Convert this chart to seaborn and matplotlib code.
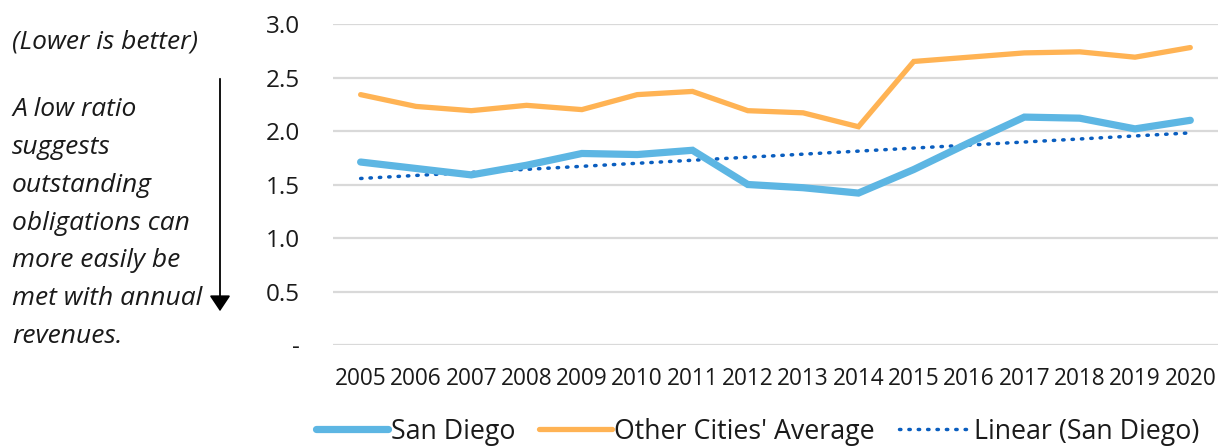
import numpy as np
import pandas as pd
import matplotlib
matplotlib.use("Agg")
import matplotlib.pyplot as plt
import seaborn as sns

years = list(range(2005, 2021))
san_diego = [1.71, 1.65, 1.59, 1.68, 1.79, 1.78, 1.82, 1.50, 1.47, 1.42, 1.64, 1.89, 2.13, 2.12, 2.02, 2.10]
other_cities = [2.34, 2.23, 2.19, 2.24, 2.20, 2.34, 2.37, 2.19, 2.17, 2.04, 2.65, 2.69, 2.73, 2.74, 2.69, 2.78]
y_ticks = [0, 0.5, 1.0, 1.5, 2.0, 2.5, 3.0]
y_tick_labels = ["-", "0.5", "1.0", "1.5", "2.0", "2.5", "3.0"]

sns.set_theme(style="white")
plt.rcParams['font.family'] = ['Open Sans', 'DejaVu Sans']

x_idx = np.arange(len(years))
coef = np.polyfit(x_idx, san_diego, 1)
trend = np.polyval(coef, x_idx)

df = pd.DataFrame({
    "x": np.concatenate([x_idx, x_idx, x_idx]),
    "value": san_diego + other_cities + list(trend),
    "series": ["San Diego"] * 16 + ["Other Cities' Average"] * 16 + ["Linear (San Diego)"] * 16,
})

fig = plt.figure(figsize=(12.21, 4.48), dpi=100)
ax = fig.add_axes([0.2727, 0.2299, 0.7248, 0.7165])

colors = {"San Diego": "#5DB6E3", "Other Cities' Average": "#FFB354", "Linear (San Diego)": "#0A5EBF"}
widths = {"San Diego": 5.2, "Other Cities' Average": 3.8, "Linear (San Diego)": 2.5}
dot_style = (0, (0.4, 2.3))

for name in ["Linear (San Diego)", "Other Cities' Average", "San Diego"]:
    sub = df[df.series == name]
    if name == "Linear (San Diego)":
        sns.lineplot(data=sub, x="x", y="value", color=colors[name], linewidth=widths[name],
                     linestyle=dot_style, dash_capstyle="round", ax=ax, legend=False)
    else:
        sns.lineplot(data=sub, x="x", y="value", color=colors[name], linewidth=widths[name],
                     solid_capstyle="round", solid_joinstyle="miter", ax=ax, legend=False)

ax.set_xlim(-0.5, len(years) - 0.5)
ax.set_ylim(0, 3.0)
ax.set_yticks(y_ticks)
ax.set_yticklabels(y_tick_labels, fontsize=17.5, color="#1a1a1a")
ax.set_xticks(x_idx)
ax.set_xticklabels([str(y) for y in years], fontsize=16.3, color="#1a1a1a")
ax.tick_params(axis="x", pad=16, length=0)
ax.tick_params(axis="y", pad=24, length=0)
ax.set_xlabel("")
ax.set_ylabel("")
ax.yaxis.grid(True, color="#D9D9D9", linewidth=1.6)
ax.set_axisbelow(True)
for s in ax.spines.values():
    s.set_visible(False)
for ln in ax.lines:
    ln.set_clip_on(False)

from matplotlib.lines import Line2D
handles = [
    Line2D([], [], color=colors["San Diego"], linewidth=5.2, solid_capstyle="round"),
    Line2D([], [], color=colors["Other Cities' Average"], linewidth=3.8, solid_capstyle="round"),
    Line2D([], [], color=colors["Linear (San Diego)"], linewidth=2.5, linestyle=dot_style, dash_capstyle="round"),
]
labels = ["San Diego", "Other Cities' Average", "Linear (San Diego)"]
fig.legend(handles, labels, loc="center", bbox_to_anchor=(0.6205, 0.036), ncol=3, frameon=False,
           fontsize=19.3, handlelength=2.7, handletextpad=0.1, columnspacing=0.9, labelcolor="#1a1a1a")

# left annotation
fig.text(12 / 1221, 1 - 42 / 448, "(Lower is better)", fontsize=19, style="italic", color="#1a1a1a",
         va="center", ha="left")
note_lines = ["A low ratio", "suggests", "outstanding", "obligations can", "more easily be",
              "met with annual", "revenues."]
for i, t in enumerate(note_lines):
    fig.text(12 / 1221, 1 - (110 + i * 37.7) / 448, t, fontsize=19, style="italic", color="#1a1a1a",
             va="center", ha="left")

fig.add_artist(matplotlib.patches.FancyArrowPatch(
    (220 / 1221, 1 - 76 / 448), (220 / 1221, 1 - 314 / 448), transform=fig.transFigure,
    arrowstyle="-|>,head_length=6,head_width=4", color="black", linewidth=1.3, mutation_scale=1.6))

fig.savefig("out.png", dpi=100)
